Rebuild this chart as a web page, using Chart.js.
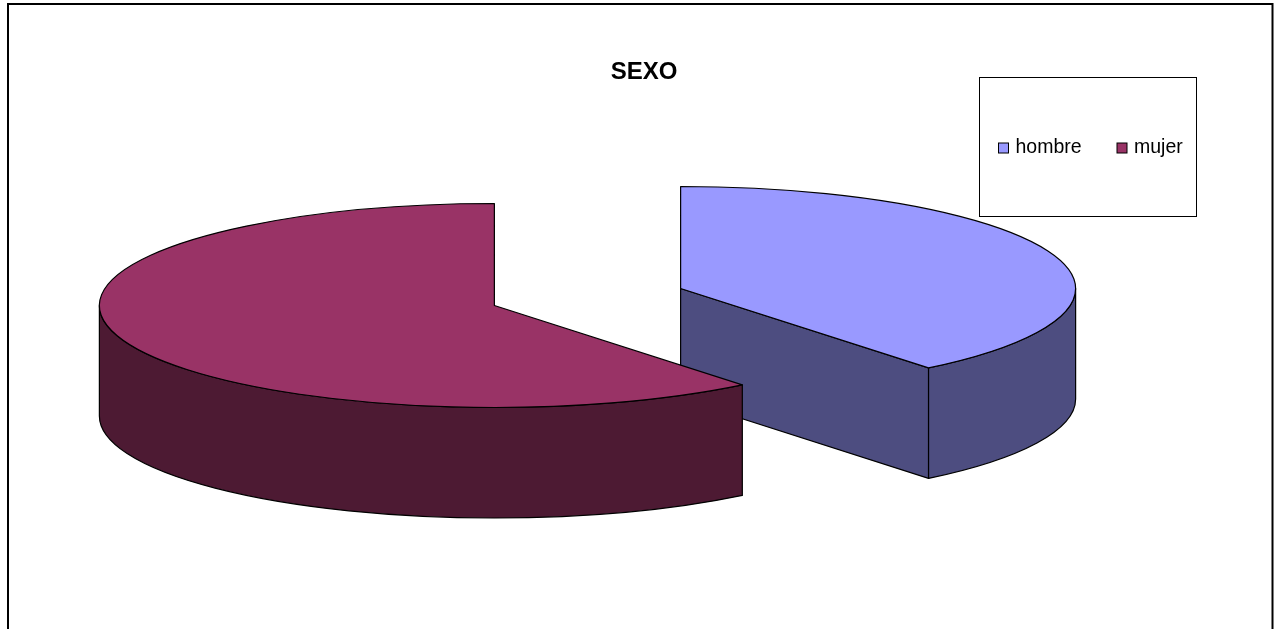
<!DOCTYPE html>
<html>
<head>
<meta charset="utf-8">
<title>SEXO</title>
<script src="https://cdn.jsdelivr.net/npm/chart.js@4.4.1/dist/chart.umd.min.js"></script>
<style>
  html, body { margin: 0; padding: 0; background: #fff; }
  canvas { display: block; }
</style>
</head>
<body>
<canvas id="sexoChart" width="1282" height="629"></canvas>
<script>
const labels = ['hombre', 'mujer']
const values = [39.2, 60.8]
const topColors = ['#9999FF', '#993366']
const sideColors = ['#4D4D80', '#4D1A33']

// Excel-like 3D exploded pie: ellipse radii, extrusion depth and explode ratio
const pie = { cx: 587.5, cy: 297, rx: 395, ry: 102, depth: 110.5, explode: 0.25 }
const FONT = "'Liberation Sans', Arial, sans-serif"

// parts of [a0, a1] that face the viewer (lower half of the ellipse)
function frontRanges(a0, a1) {
  const out = []
  for (let k = -1; k <= 1; k++) {
    const s = Math.max(a0, k * 2 * Math.PI)
    const e = Math.min(a1, k * 2 * Math.PI + Math.PI)
    if (e > s + 1e-6) out.push([s, e])
  }
  return out
}

function paint(ctx, fill) {
  ctx.fillStyle = fill
  ctx.fill()
  ctx.stroke()
}

const pie3d = {
  id: 'pie3d',
  beforeDraw(chart) {
    const ctx = chart.ctx
    ctx.save()
    ctx.fillStyle = '#fff'
    ctx.fillRect(0, 0, chart.width, chart.height)
    ctx.strokeStyle = '#000'
    ctx.lineWidth = 2
    ctx.strokeRect(8, 4, 1264.5, 800)
    ctx.restore()
  },
  beforeDatasetsDraw(chart) {
    const ctx = chart.ctx
    const meta = chart.getDatasetMeta(0)
    const slices = meta.data.map((arc, i) => {
      const mid = (arc.startAngle + arc.endAngle) / 2
      return {
        i,
        a0: arc.startAngle,
        a1: arc.endAngle,
        x: pie.cx + Math.cos(mid) * pie.explode * pie.rx,
        y: pie.cy + Math.sin(mid) * pie.explode * pie.ry
      }
    }).sort((a, b) => a.y - b.y) // back slices first

    ctx.save()
    ctx.strokeStyle = '#000'
    ctx.lineWidth = 1.2
    ctx.lineJoin = 'round'

    slices.forEach((s) => {
      const side = sideColors[s.i]
      const radial = (a) => {
        const ex = s.x + Math.cos(a) * pie.rx
        const ey = s.y + Math.sin(a) * pie.ry
        ctx.beginPath()
        ctx.moveTo(s.x, s.y)
        ctx.lineTo(ex, ey)
        ctx.lineTo(ex, ey + pie.depth)
        ctx.lineTo(s.x, s.y + pie.depth)
        ctx.closePath()
        paint(ctx, side)
      }
      if (Math.cos(s.a0) < -1e-3) radial(s.a0)
      if (Math.cos(s.a1) > 1e-3) radial(s.a1)

      frontRanges(s.a0, s.a1).forEach(([r0, r1]) => {
        ctx.beginPath()
        ctx.ellipse(s.x, s.y, pie.rx, pie.ry, 0, r0, r1, false)
        ctx.lineTo(s.x + Math.cos(r1) * pie.rx, s.y + Math.sin(r1) * pie.ry + pie.depth)
        ctx.ellipse(s.x, s.y + pie.depth, pie.rx, pie.ry, 0, r1, r0, true)
        ctx.closePath()
        paint(ctx, side)
      })

      ctx.beginPath()
      ctx.moveTo(s.x, s.y)
      ctx.ellipse(s.x, s.y, pie.rx, pie.ry, 0, s.a0, s.a1, false)
      ctx.closePath()
      paint(ctx, topColors[s.i])
    })
    ctx.restore()
    return false
  },
  afterDraw(chart) {
    // legend box, Excel style
    const ctx = chart.ctx
    ctx.save()
    ctx.strokeStyle = '#000'
    ctx.lineWidth = 1
    ctx.strokeRect(979.5, 77.5, 217, 139)
    ctx.font = '19.5px ' + FONT
    ctx.textBaseline = 'alphabetic'
    const itemX = [998.5, 1117]
    chart.data.labels.forEach((label, i) => {
      ctx.fillStyle = topColors[i]
      ctx.fillRect(itemX[i], 143, 10, 10)
      ctx.strokeRect(itemX[i], 143, 10, 10)
      ctx.fillStyle = '#000'
      ctx.fillText(label, itemX[i] + 17, 153)
    })
    ctx.restore()
  }
}

new Chart(document.getElementById('sexoChart'), {
  type: 'pie',
  data: {
    labels: labels,
    datasets: [{
      data: values,
      backgroundColor: topColors,
      borderColor: '#000',
      borderWidth: 1
    }]
  },
  options: {
    responsive: false,
    animation: false,
    devicePixelRatio: 1,
    layout: { padding: { left: 6 } },
    plugins: {
      legend: { display: false },
      tooltip: { enabled: false },
      title: {
        display: true,
        text: 'SEXO',
        color: '#000',
        font: { family: FONT, size: 24, weight: 'bold' },
        padding: { top: 58, bottom: 0 }
      }
    }
  },
  plugins: [pie3d]
})
</script>
</body>
</html>
